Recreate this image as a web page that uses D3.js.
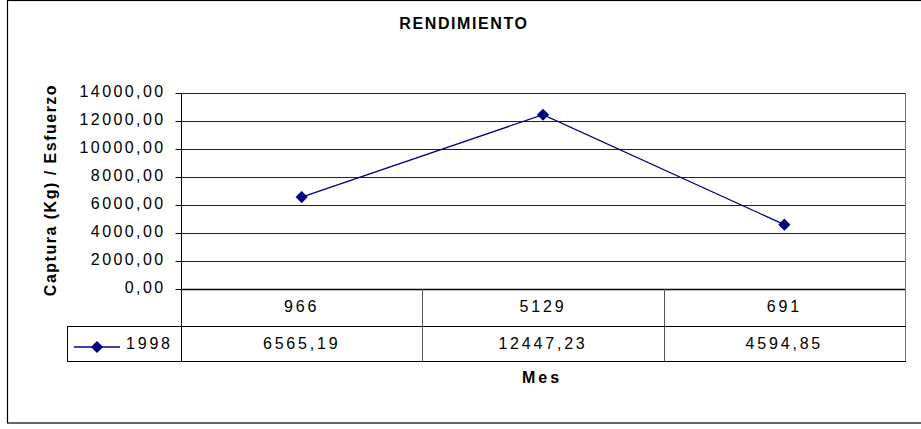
<!DOCTYPE html>
<html>
<head>
<meta charset="utf-8">
<script src="https://cdn.jsdelivr.net/npm/d3@7"></script>
<style>
  body { margin: 0; background: #fff; }
  text { font-family: Arial, "Liberation Sans", sans-serif; fill: #000; }
</style>
</head>
<body>
<div id="chart"></div>
<script>
// data
var categories = ['966', '5129', '691'];
var seriesName = '1998';
var values = [6565.19, 12447.23, 4594.85];
var yTicks = [0, 2000, 4000, 6000, 8000, 10000, 12000, 14000];

var width = 921;
var height = 429;
var plot = { left: 181, right: 905, top: 93, bottom: 289 };
var rowH1 = 37;
var rowH2 = 35;
var legendLeft = 67;

var locale = d3.formatLocale({ decimal: ',', thousands: '', grouping: [3], currency: ['', ''] });
var fmt = locale.format('.2f');

var svg = d3.select('#chart')
  .append('svg')
  .attr('width', width)
  .attr('height', height);

// outer border
svg.append('rect')
  .attr('x', 7.5)
  .attr('y', 0.5)
  .attr('width', width + 10)
  .attr('height', 422.5)
  .attr('fill', 'none')
  .attr('stroke', '#000')
  .attr('stroke-width', 1.2);

var x = d3.scaleBand()
  .domain(categories)
  .range([plot.left, plot.right])
  .padding(0);

var y = d3.scaleLinear()
  .domain([0, 14000])
  .range([plot.bottom, plot.top]);

// gridlines
svg.append('g')
  .selectAll('line')
  .data(yTicks)
  .enter()
  .append('line')
  .attr('x1', plot.left)
  .attr('x2', plot.right)
  .attr('y1', function(d) { return Math.round(y(d)) + 0.5; })
  .attr('y2', function(d) { return Math.round(y(d)) + 0.5; })
  .attr('stroke', function(d) { return d === 0 ? '#000' : '#222'; })
  .attr('stroke-width', function(d) { return d === 0 ? 1.5 : 1; });

// y axis
var yAxis = d3.axisLeft(y)
  .tickValues(yTicks)
  .tickSize(6)
  .tickPadding(10)
  .tickFormat(fmt);

var gy = svg.append('g')
  .attr('transform', 'translate(' + (plot.left + 0.5) + ',0)')
  .call(yAxis);
gy.select('.domain').remove();
gy.selectAll('.tick line').attr('stroke', '#000');
gy.selectAll('.tick text')
  .attr('font-size', 16)
  .attr('letter-spacing', 2.4)
  .attr('font-family', 'Arial, "Liberation Sans", sans-serif')
  .attr('fill', '#000')
  .attr('dy', '0.22em');

// data table
var tableTop = plot.bottom;
var row1Bottom = tableTop + rowH1;
var row2Bottom = row1Bottom + rowH2;
var table = svg.append('g');

// vertical lines: axis + column separators + right edge
table.append('line')
  .attr('x1', plot.left + 0.5).attr('x2', plot.left + 0.5)
  .attr('y1', plot.top).attr('y2', row2Bottom)
  .attr('stroke', '#000');

table.selectAll('.sep')
  .data(categories.slice(1))
  .enter()
  .append('line')
  .attr('class', 'sep')
  .attr('x1', function(d) { return Math.round(x(d)) + 0.5; })
  .attr('x2', function(d) { return Math.round(x(d)) + 0.5; })
  .attr('y1', tableTop)
  .attr('y2', row2Bottom)
  .attr('stroke', '#555');

table.append('line')
  .attr('x1', plot.right + 0.5).attr('x2', plot.right + 0.5)
  .attr('y1', plot.top).attr('y2', row2Bottom)
  .attr('stroke', '#777');

table.append('line')
  .attr('x1', legendLeft + 0.5).attr('x2', legendLeft + 0.5)
  .attr('y1', row1Bottom).attr('y2', row2Bottom)
  .attr('stroke', '#000');

[row1Bottom, row2Bottom].forEach(function(yy) {
  table.append('line')
    .attr('x1', legendLeft).attr('x2', plot.right + 1)
    .attr('y1', yy + 0.5).attr('y2', yy + 0.5)
    .attr('stroke', '#000');
});

// category row
table.selectAll('.cat')
  .data(categories)
  .enter()
  .append('text')
  .attr('class', 'cat')
  .attr('x', function(d) { return x(d) + x.bandwidth() / 2; })
  .attr('y', tableTop + 23)
  .attr('text-anchor', 'middle')
  .attr('font-size', 16)
  .attr('letter-spacing', 2.8)
  .text(function(d) { return d; });

// value row
table.selectAll('.val')
  .data(values)
  .enter()
  .append('text')
  .attr('class', 'val')
  .attr('x', function(d, i) { return x(categories[i]) + x.bandwidth() / 2; })
  .attr('y', row1Bottom + 23)
  .attr('text-anchor', 'middle')
  .attr('font-size', 16)
  .attr('letter-spacing', 2.8)
  .text(function(d) { return fmt(d); });

// series line
var lineColor = '#000080';
var line = d3.line()
  .x(function(d, i) { return x(categories[i]) + x.bandwidth() / 2; })
  .y(function(d) { return y(d); });

svg.append('path')
  .datum(values)
  .attr('d', line)
  .attr('fill', 'none')
  .attr('stroke', lineColor)
  .attr('stroke-width', 1.3);

var diamond = d3.symbol().type(d3.symbolDiamond2).size(95);

svg.selectAll('.pt')
  .data(values)
  .enter()
  .append('path')
  .attr('class', 'pt')
  .attr('d', diamond)
  .attr('fill', lineColor)
  .attr('transform', function(d, i) {
    return 'translate(' + (x(categories[i]) + x.bandwidth() / 2) + ',' + y(d) + ')';
  });

// legend key in table
var ly = row1Bottom + 21;
table.append('line')
  .attr('x1', 74).attr('x2', 120)
  .attr('y1', ly).attr('y2', ly)
  .attr('stroke', lineColor)
  .attr('stroke-width', 1.3);
table.append('path')
  .attr('d', diamond)
  .attr('fill', lineColor)
  .attr('transform', 'translate(97,' + ly + ')');
table.append('text')
  .attr('x', 126)
  .attr('y', row1Bottom + 23)
  .attr('font-size', 16)
  .attr('letter-spacing', 2.8)
  .text(seriesName);

// titles
svg.append('text')
  .attr('x', 464)
  .attr('y', 29)
  .attr('text-anchor', 'middle')
  .attr('font-size', 16)
  .attr('font-weight', 'bold')
  .attr('letter-spacing', 1.6)
  .text('RENDIMIENTO');

svg.append('text')
  .attr('x', 542)
  .attr('y', 383)
  .attr('text-anchor', 'middle')
  .attr('font-size', 16)
  .attr('font-weight', 'bold')
  .attr('letter-spacing', 3)
  .text('Mes');

svg.append('text')
  .attr('transform', 'translate(56,190) rotate(-90)')
  .attr('text-anchor', 'middle')
  .attr('font-size', 16)
  .attr('font-weight', 'bold')
  .attr('letter-spacing', 1.5)
  .text('Captura (Kg) / Esfuerzo');
</script>
</body>
</html>
